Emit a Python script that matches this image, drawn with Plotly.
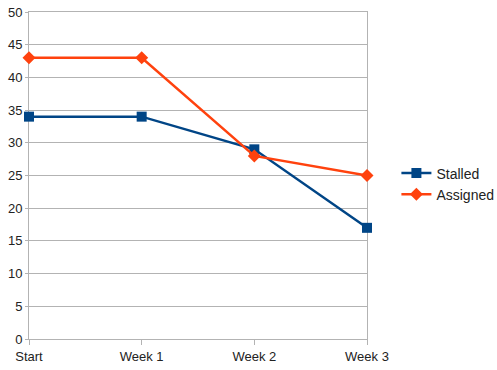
import plotly.graph_objects as go

categories = ["Start", "Week 1", "Week 2", "Week 3"]
stalled = [34, 34, 29, 17]
assigned = [43, 43, 28, 25]
y_ticks = [0, 5, 10, 15, 20, 25, 30, 35, 40, 45, 50]

xs = list(range(len(categories)))

fig = go.Figure()
fig.add_trace(go.Scatter(
    x=xs, y=stalled, name="Stalled", mode="lines+markers",
    line=dict(color="#004586", width=2.5),
    marker=dict(symbol="square", size=10, color="#004586"),
    cliponaxis=False,
))
fig.add_trace(go.Scatter(
    x=xs, y=assigned, name="Assigned", mode="lines+markers",
    line=dict(color="#ff420e", width=2.5),
    marker=dict(symbol="diamond", size=10, color="#ff420e"),
    cliponaxis=False,
))

fig.update_layout(
    width=497, height=370,
    margin=dict(l=29, r=130, t=12, b=31, autoexpand=False),
    paper_bgcolor="white", plot_bgcolor="white",
    font=dict(family="Liberation Sans, Arial, sans-serif", size=13, color="#222222"),
    showlegend=True,
    legend=dict(x=1.087, xanchor="left", y=0.474, yanchor="middle",
                font=dict(size=14, color="#222222"), bgcolor="rgba(0,0,0,0)",
                tracegroupgap=0, itemwidth=30),
    xaxis=dict(
        range=[0, 3], tickvals=xs, ticktext=categories, automargin=False,
        showgrid=False, zeroline=False, layer="below traces",
        showline=True, linecolor="#b3b3b3", linewidth=1, mirror=True,
        ticks="outside", ticklen=5, tickcolor="#b3b3b3",
    ),
    yaxis=dict(
        range=[0, 50], tickvals=y_ticks, automargin=False, layer="below traces",
        showgrid=True, gridcolor="#b3b3b3", gridwidth=1, zeroline=False,
        showline=True, linecolor="#b3b3b3", linewidth=1, mirror=True,
        ticks="outside", ticklen=3, tickcolor="#b3b3b3",
    ),
)

fig.write_html(
    "out.html",
    config={"displayModeBar": False},
    post_script="document.body.style.margin='0';document.body.style.padding='0';",
)
